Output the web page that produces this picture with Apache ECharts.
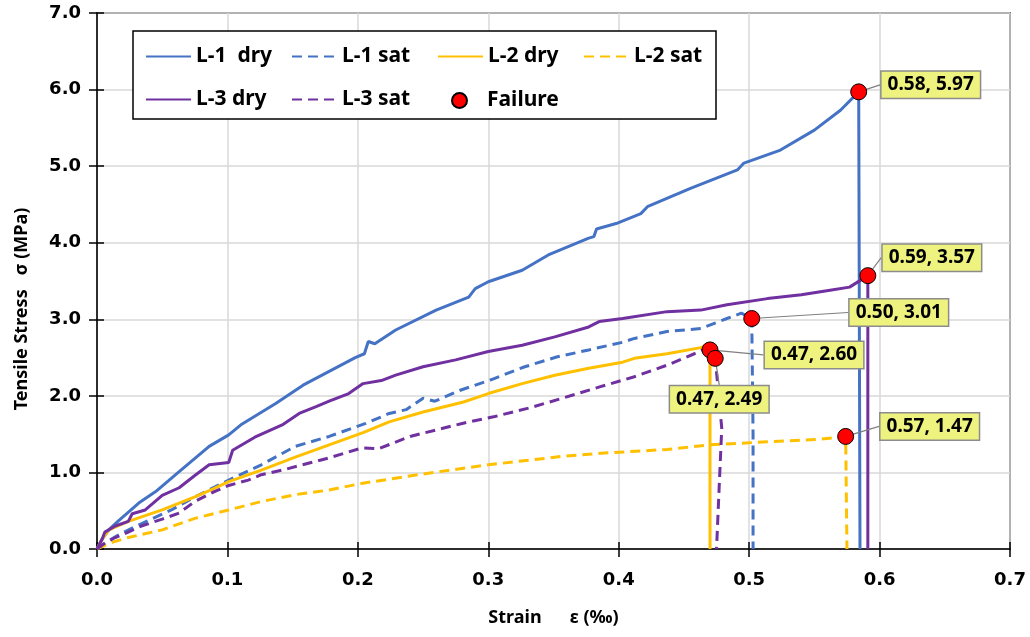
<!DOCTYPE html>
<html>
<head>
<meta charset="utf-8">
<script src="https://cdn.jsdelivr.net/npm/echarts@6/dist/echarts.min.js"></script>
<style>
  html, body {margin: 0; padding: 0; background: #fff;}
  #chart {width: 1030px; height: 637px;}
</style>
</head>
<body>
<div id="chart"></div>
<script>
// strain (per mille), stress (MPa)
var l1Dry = [[0,0],[0.004,0.13],[0.009,0.25],[0.016,0.36],[0.032,0.60],[0.045,0.75],[0.063,1.01],[0.086,1.34],[0.101,1.49],[0.111,1.63],[0.137,1.90],[0.158,2.14],[0.178,2.32],[0.198,2.50],[0.205,2.55],[0.208,2.71],[0.213,2.68],[0.229,2.86],[0.260,3.12],[0.285,3.29],[0.290,3.40],[0.300,3.49],[0.326,3.64],[0.346,3.84],[0.377,4.06],[0.381,4.08],[0.383,4.18],[0.398,4.25],[0.417,4.38],[0.422,4.47],[0.455,4.71],[0.491,4.95],[0.496,5.04],[0.524,5.21],[0.550,5.47],[0.570,5.73],[0.584,5.97],[0.585,0]];
var l1Sat = [[0,0],[0.014,0.16],[0.029,0.29],[0.057,0.51],[0.075,0.68],[0.101,0.90],[0.126,1.10],[0.152,1.34],[0.178,1.47],[0.206,1.64],[0.224,1.77],[0.237,1.82],[0.250,1.97],[0.259,1.93],[0.278,2.07],[0.302,2.21],[0.328,2.38],[0.353,2.51],[0.377,2.60],[0.403,2.70],[0.412,2.75],[0.437,2.84],[0.463,2.88],[0.483,3.01],[0.494,3.08],[0.502,3.01],[0.503,1.5],[0.503,0]];
var l2Dry = [[0,0],[0.004,0.13],[0.009,0.25],[0.024,0.36],[0.050,0.51],[0.075,0.68],[0.087,0.77],[0.101,0.88],[0.126,1.03],[0.152,1.20],[0.178,1.36],[0.204,1.52],[0.224,1.66],[0.250,1.79],[0.281,1.92],[0.300,2.03],[0.326,2.16],[0.351,2.27],[0.377,2.36],[0.403,2.44],[0.412,2.49],[0.437,2.55],[0.463,2.63],[0.467,2.66],[0.470,2.60],[0.470,0]];
var l2Sat = [[0,0],[0.012,0.09],[0.024,0.15],[0.050,0.25],[0.075,0.40],[0.101,0.51],[0.126,0.62],[0.152,0.71],[0.178,0.77],[0.204,0.86],[0.254,0.99],[0.300,1.10],[0.357,1.21],[0.386,1.25],[0.437,1.30],[0.470,1.36],[0.514,1.40],[0.552,1.43],[0.574,1.47],[0.575,0]];
var l3Dry = [[0,0],[0.004,0.13],[0.006,0.22],[0.014,0.30],[0.024,0.36],[0.027,0.46],[0.037,0.51],[0.050,0.70],[0.063,0.80],[0.075,0.96],[0.086,1.10],[0.101,1.13],[0.104,1.29],[0.121,1.46],[0.142,1.62],[0.155,1.77],[0.168,1.86],[0.178,1.93],[0.193,2.03],[0.204,2.16],[0.218,2.20],[0.229,2.27],[0.250,2.38],[0.275,2.47],[0.300,2.58],[0.326,2.66],[0.351,2.77],[0.377,2.90],[0.385,2.97],[0.403,3.01],[0.437,3.10],[0.463,3.12],[0.483,3.19],[0.514,3.27],[0.540,3.32],[0.562,3.38],[0.577,3.42],[0.591,3.57],[0.591,0]];
var l3Sat = [[0,0],[0.007,0.09],[0.014,0.15],[0.024,0.22],[0.034,0.30],[0.050,0.39],[0.063,0.47],[0.075,0.62],[0.090,0.75],[0.101,0.83],[0.116,0.90],[0.126,0.97],[0.142,1.03],[0.162,1.12],[0.178,1.19],[0.203,1.32],[0.216,1.31],[0.240,1.47],[0.280,1.64],[0.305,1.73],[0.331,1.84],[0.357,1.97],[0.386,2.12],[0.412,2.25],[0.437,2.40],[0.458,2.55],[0.467,2.62],[0.474,2.49],[0.479,1.58],[0.477,0.8],[0.475,0]];

var failX = [0.584, 0.591, 0.502, 0.470, 0.474, 0.574];
var failY = [5.97, 3.57, 3.01, 2.60, 2.49, 1.47];
var failText = ['0.58, 5.97', '0.59, 3.57', '0.50, 3.01', '0.47, 2.60', '0.47, 2.49', '0.57, 1.47'];
// where each callout box sits relative to its point (px)
var labelDx = [72, 64, 147, 104, 4, 84];
var labelDy = [-7, -18, -6, 5, 41, -10];

var BLUE = '#4472C4', GOLD = '#FFC000', PURPLE = '#7030A0';
var tickFont = {fontFamily: 'DejaVu Sans', fontWeight: 'bold', fontSize: 18, color: '#000'};
var nameFont = {fontFamily: 'Noto Sans', fontWeight: 'bold', fontSize: 18, color: '#000'};
var legendText = {
    rich: {t: {fontFamily: 'Noto Sans', fontWeight: 'bold', fontSize: 21, color: '#000',
               width: 80, lineHeight: 29}},
};

function lineSeries(name, data, color, dashed) {
    return {
        name: name, type: 'line', data: data, symbol: 'none', z: 3,
        itemStyle: {color: color},
        lineStyle: {color: color, width: 3, type: dashed ? [10, 6] : 'solid'},
    };
}
// line entries in the legend: line only, no marker in the middle
function lineEntry(name) {
    return {name: name, itemStyle: {opacity: 0}};
}
function legendRow(names, opts) {
    return Object.assign({
        data: names.map(lineEntry),
        itemWidth: 45, itemHeight: 14, itemGap: 15,
        formatter: name => '{t|' + name + '}',
        textStyle: legendText,
    }, opts);
}

var chart = echarts.init(document.getElementById('chart'));
chart.setOption({
    animation: false,
    grid: {left: 97, right: 20, top: 13, bottom: 88, show: true, borderColor: '#000', borderWidth: 1.5},
    legend: [
        // first row carries the framed box for both rows
        legendRow(['L-1  dry', 'L-1 sat', 'L-2 dry', 'L-2 sat'], {
            left: 133, top: 31, padding: [15, 2, 52, 12],
            backgroundColor: '#fff', borderColor: '#000', borderWidth: 1.5,
        }),
        legendRow(['L-3 dry', 'L-3 sat'], {left: 145, top: 89, padding: 0, z: 5}),
        {
            left: 451, top: 90, z: 5, padding: 0,
            data: [{name: 'Failure', icon: 'circle'}],
            itemWidth: 45, itemHeight: 15,
            formatter: name => '{t|' + name + '}',
            textStyle: legendText,
        },
    ],
    xAxis: [{
        type: 'value', min: 0, max: 0.7, interval: 0.1,
        name: 'Strain      ε (‰)', nameLocation: 'middle', nameGap: 60, nameTextStyle: nameFont,
        axisLine: {lineStyle: {color: '#000', width: 1.5}},
        axisTick: {show: true, length: 8, lineStyle: {color: '#000', width: 1.5}},
        axisLabel: Object.assign({margin: 22, formatter: v => v.toFixed(1)}, tickFont),
        splitLine: {show: true, lineStyle: {color: '#d9d9d9', width: 1.5}},
    }, {
        type: 'value', min: 0, max: 0.7, interval: 0.1, position: 'bottom',
        axisLine: {show: false}, axisLabel: {show: false}, splitLine: {show: false},
        axisTick: {show: true, inside: true, length: 7, lineStyle: {color: '#000', width: 1.5}},
    }],
    yAxis: [{
        type: 'value', min: 0, max: 7, interval: 1,
        name: 'Tensile Stress   σ (MPa)', nameLocation: 'middle', nameGap: 66,
        nameTextStyle: Object.assign({padding: [0, 56, 0, 0]}, nameFont),
        axisLine: {show: true, lineStyle: {color: '#000', width: 1.5}},
        axisTick: {show: true, length: 8, lineStyle: {color: '#000', width: 1.5}},
        axisLabel: Object.assign({margin: 16, formatter: v => v.toFixed(1)}, tickFont),
        splitLine: {show: true, lineStyle: {color: '#d9d9d9', width: 1.5}},
    }, {
        type: 'value', min: 0, max: 7, interval: 1, position: 'left',
        axisLine: {show: false}, axisLabel: {show: false}, splitLine: {show: false},
        axisTick: {show: true, inside: true, length: 7, lineStyle: {color: '#000', width: 1.5}},
    }],
    series: [
        lineSeries('L-1  dry', l1Dry, BLUE, false),
        lineSeries('L-1 sat', l1Sat, BLUE, true),
        lineSeries('L-2 dry', l2Dry, GOLD, false),
        lineSeries('L-2 sat', l2Sat, GOLD, true),
        lineSeries('L-3 dry', l3Dry, PURPLE, false),
        lineSeries('L-3 sat', l3Sat, PURPLE, true),
        {
            name: 'Failure', type: 'scatter', z: 5,
            data: failX.map((x, i) => [x, failY[i]]),
            symbol: 'circle', symbolSize: 16,
            itemStyle: {color: '#FF0000', borderColor: '#000', borderWidth: 1, opacity: 1},
            label: {
                show: true, position: 'inside',
                formatter: p => failText[p.dataIndex],
                fontFamily: 'Noto Sans', fontWeight: 'bold', fontSize: 19, color: '#000',
                backgroundColor: '#EEF27E', borderColor: '#8c8c8c', borderWidth: 1.5,
                padding: [4, 6, 3, 6],
            },
            labelLine: {show: true, lineStyle: {color: '#7f7f7f', width: 1.2}},
            labelLayout: p => ({dx: labelDx[p.dataIndex], dy: labelDy[p.dataIndex]}),
        },
    ],
});
</script>
</body>
</html>
